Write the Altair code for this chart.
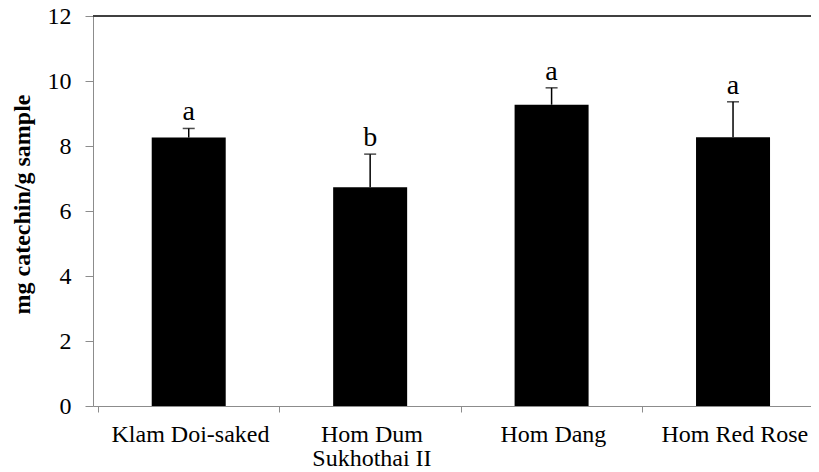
import json
import altair as alt
import pandas as pd

# ---- data ----
categories = ["Klam Doi-saked", "Hom Dum\nSukhothai II", "Hom Dang", "Hom Red Rose"]
means = [8.26, 6.73, 9.27, 8.27]
errors = [0.28, 1.02, 0.52, 1.09]
letters = ["a", "b", "a", "a"]
y_ticks = [0, 2, 4, 6, 8, 10, 12]

PLOT_W = 718
PLOT_H = 390
BAND_PX = 184
FONT = "Liberation Serif"

df = pd.DataFrame({
    "idx": [i + 0.5 for i in range(len(categories))],
    "mean": means,
    "upper": [m + e for m, e in zip(means, errors)],
    "letter": letters,
})

label_lines = json.dumps([c.split("\n") for c in categories])

x_scale = alt.Scale(domain=[0, PLOT_W / BAND_PX], nice=False, zero=False)
y_scale = alt.Scale(domain=[0, 12], nice=False)

x_axis = alt.Axis(
    values=list(range(len(categories))),
    labelExpr=f"{label_lines}[datum.value]",
    labelOffset=BAND_PX / 2,
    labelAlign="center",
    labelBaseline="top",
    labelPadding=10,
    labelLineHeight=24,
    labelOverlap=False,
    labelFlush=False,
    labelBound=False,
    labelFontSize=24,
    tickSize=6,
    title=None,
)

y_axis = alt.Axis(
    values=y_ticks,
    labelPadding=14,
    labelFontSize=24,
    tickSize=8,
    title="mg catechin/g sample",
    titleAngle=-90,
    titleAlign="center",
    titleBaseline="middle",
    titleX=-71,
    titleY=188,
)

base = alt.Chart(df)

bars = base.mark_bar(size=74, color="black").encode(
    x=alt.X("idx:Q", scale=x_scale, axis=x_axis),
    y=alt.Y("mean:Q", scale=y_scale, axis=y_axis),
)

err_line = base.mark_rule(color="black", strokeWidth=1.5).encode(
    x=alt.X("idx:Q", scale=x_scale, axis=x_axis),
    y=alt.Y("mean:Q", scale=y_scale, axis=y_axis),
    y2="upper:Q",
)

err_cap = base.mark_tick(orient="horizontal", size=12, thickness=1.5, color="black").encode(
    x=alt.X("idx:Q", scale=x_scale, axis=x_axis),
    y=alt.Y("upper:Q", scale=y_scale, axis=y_axis),
)

labels = base.mark_text(font=FONT, fontSize=28, color="black", baseline="alphabetic", dy=-8).encode(
    x=alt.X("idx:Q", scale=x_scale, axis=x_axis),
    y=alt.Y("upper:Q", scale=y_scale, axis=y_axis),
    text="letter:N",
)

top_line = alt.Chart(pd.DataFrame({"top": [12]})).mark_rule(color="#404040", strokeWidth=2).encode(
    y=alt.Y("top:Q", scale=y_scale, axis=y_axis),
)

chart = alt.layer(top_line, bars, err_line, err_cap, labels).properties(
    width=PLOT_W,
    height=PLOT_H,
    autosize=alt.AutoSizeParams(type="none"),
    padding={"left": 85, "top": 8, "right": 0, "bottom": 64},
).configure_view(
    stroke=None
).configure(
    background="white"
).configure_axis(
    labelFont=FONT,
    labelColor="black",
    tickColor="#8c8c8c",
    tickWidth=1,
    domainColor="#8c8c8c",
    domainWidth=1,
    grid=False,
    titleFont=FONT,
    titleFontSize=24,
    titleFontWeight="bold",
    titleColor="black",
)

chart.save("out.html", embed_options={"renderer": "svg", "actions": False})
